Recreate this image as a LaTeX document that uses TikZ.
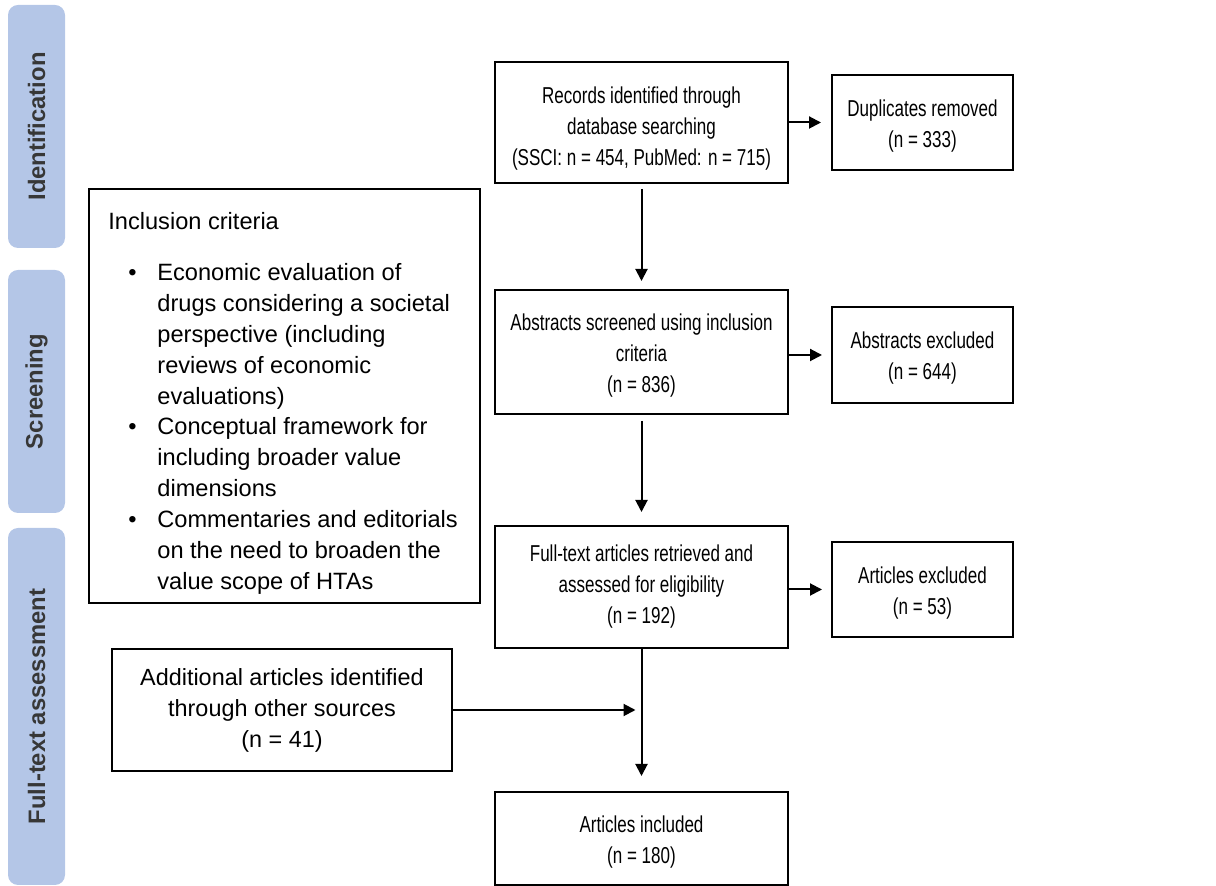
\documentclass[tikz,border=0pt]{standalone}
\usepackage{fontspec}
\setmainfont{Liberation Sans}
\newfontfamily\condfont[FakeStretch=0.74]{Liberation Sans}
\usetikzlibrary{arrows.meta}
\definecolor{barblue}{RGB}{180,198,231}
\definecolor{bartext}{RGB}{55,55,55}
\newcommand\lowerA{\rule{0pt}{11.4pt}}
\newcommand\lowerB{\rule{0pt}{14pt}}
\begin{document}
\begin{tikzpicture}[x=0.5pt,y=-0.5pt,
  phase/.style={fill=barblue, rounded corners=5pt, rotate=90, text=bartext,
    font=\fontsize{11.9pt}{14pt}\selectfont\bfseries, minimum height=28.5pt, inner sep=0pt},
  box/.style={draw=black, line width=1pt, align=center, inner sep=2pt,
    font=\condfont\fontsize{11.5pt}{15.5pt}\selectfont},
  plainbox/.style={box, font=\fontsize{11.7pt}{15.5pt}\selectfont},
  arr/.style={line width=1pt, -{Triangle[length=6pt,width=6pt]}}]
\useasboundingbox (0,0) rectangle (1216,886);

% phase bars
\node[phase, minimum width=121.5pt] (pid) at (36.5,126.5) {Identification};
\node[phase, minimum width=121.5pt] (pscr) at (36.5,391.5) {Screening};
\node[phase, minimum width=178.5pt] (pft) at (36.5,706.5) {Full-text assessment};

% main boxes
\node[box, minimum width=146.5pt, minimum height=60.5pt] (rec) at (641.5,122.5)
  {\lowerB Records identified through\\database searching\\(SSCI: n = 454, PubMed: n = 715)};
\node[box, minimum width=90.5pt, minimum height=47.5pt] (dup) at (922.5,122.5)
  {\lowerA Duplicates removed\\(n = 333)};
\node[box, minimum width=146.5pt, minimum height=62pt] (abs) at (641.5,352)
  {\lowerA Abstracts screened using inclusion\\criteria\\(n = 836)};
\node[box, minimum width=90.5pt, minimum height=48pt] (exa) at (922.5,355)
  {\lowerA Abstracts excluded\\(n = 644)};
\node[box, minimum width=146.5pt, minimum height=61pt] (ft) at (641.5,587)
  {Full-text articles retrieved and\\assessed for eligibility\\(n = 192)};
\node[box, minimum width=90.5pt, minimum height=47.5pt] (exf) at (922.5,589.5)
  {\lowerA Articles excluded\\(n = 53)};
\node[box, minimum width=146.5pt, minimum height=46.5pt] (inc) at (641.5,838.5)
  {\lowerA Articles included\\(n = 180)};
\node[plainbox, minimum width=170pt, minimum height=61pt] (add) at (282,710)
  {Additional articles identified\\through other sources\\(n = 41)};

% inclusion criteria
\node[draw=black, line width=1pt, minimum width=195.5pt, minimum height=207pt, inner sep=0pt] (crit) at (284.5,396) {};
\node[anchor=north west, inner sep=0pt, align=left, font=\fontsize{11.8pt}{15.45pt}\selectfont] (crittext) at (108,207.4)
 {\strut Inclusion criteria\\[10.05pt]
  \makebox[24.5pt][l]{\hspace*{10pt}\textbullet}Economic evaluation of\\
  \hspace*{24.5pt}drugs considering a societal\\
  \hspace*{24.5pt}perspective (including\\
  \hspace*{24.5pt}reviews of economic\\
  \hspace*{24.5pt}evaluations)\\
  \makebox[24.5pt][l]{\hspace*{10pt}\textbullet}Conceptual framework for\\
  \hspace*{24.5pt}including broader value\\
  \hspace*{24.5pt}dimensions\\
  \makebox[24.5pt][l]{\hspace*{10pt}\textbullet}Commentaries and editorials\\
  \hspace*{24.5pt}on the need to broaden the\\
  \hspace*{24.5pt}value scope of HTAs};

% connectors
\draw[arr, shorten >=5pt] (rec.east) -- (dup.west);
\draw[arr, shorten <=2.5pt, shorten >=4pt] (rec.south) -- (abs.north);
\draw[arr, shorten >=4.5pt] (abs.east |- exa.west) -- (exa.west);
\draw[arr, shorten <=3pt, shorten >=6.5pt] (abs.south) -- (ft.north);
\draw[arr, shorten >=4.5pt] (ft.east |- exf.west) -- (exf.west);
\draw[arr, shorten >=7.5pt] (ft.south) -- (inc.north);
\draw[arr, shorten >=3pt] (add.east) -- (add.east -| ft.south);
\end{tikzpicture}
\end{document}
